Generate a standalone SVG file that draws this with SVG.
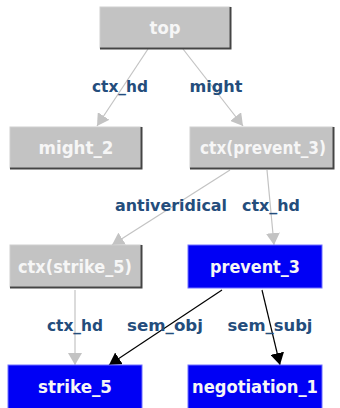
<svg xmlns="http://www.w3.org/2000/svg" width="340" height="408" viewBox="0 0 340 408">
<style>
.g rect{fill:#c3c3c3;stroke:#d0d0d0;stroke-width:1}
.g polyline{fill:none;stroke:#444;stroke-width:2}
.b rect{fill:#0000f5;stroke:#7070ff;stroke-width:1}
.nt{font-family:"DejaVu Sans",Verdana,sans-serif;font-weight:bold;font-size:17px;fill:#f6f6f6;text-anchor:middle}
.lb{font-family:"DejaVu Sans",Verdana,sans-serif;font-weight:bold;font-size:16px;fill:#244d7c;text-anchor:middle}
.eg{stroke:#c3c3c3;stroke-width:1.2;fill:none;marker-end:url(#ag)}
.ek{stroke:#000;stroke-width:1.2;fill:none;marker-end:url(#ak)}
</style>
<defs>
<marker id="ag" viewBox="0 0 12 14" refX="12" refY="7" markerWidth="12" markerHeight="14" markerUnits="userSpaceOnUse" orient="auto"><path d="M0,0 L12,7 L0,14 Z" fill="#c3c3c3"/></marker>
<marker id="ak" viewBox="0 0 12 14" refX="12" refY="7" markerWidth="12" markerHeight="14" markerUnits="userSpaceOnUse" orient="auto"><path d="M0,0 L12,7 L0,14 Z" fill="#000"/></marker>
</defs>
<g id="edges">
<line class="eg" x1="148" y1="49" x2="97" y2="126"/>
<line class="eg" x1="183" y1="49" x2="243" y2="126"/>
<line class="eg" x1="230" y1="170" x2="112" y2="245"/>
<line class="eg" x1="267" y1="170" x2="274" y2="245"/>
<line class="eg" x1="75" y1="290" x2="75" y2="365"/>
<line class="ek" x1="222" y1="290" x2="109" y2="365"/>
<line class="ek" x1="262" y1="290" x2="280" y2="365"/>
<text class="lb" x="120" y="92" textLength="56" lengthAdjust="spacingAndGlyphs">ctx_hd</text>
<text class="lb" x="216" y="92" textLength="53" lengthAdjust="spacingAndGlyphs">might</text>
<text class="lb" x="171" y="211" textLength="112" lengthAdjust="spacingAndGlyphs">antiveridical</text>
<text class="lb" x="271" y="211" textLength="58" lengthAdjust="spacingAndGlyphs">ctx_hd</text>
<text class="lb" x="75" y="331" textLength="56" lengthAdjust="spacingAndGlyphs">ctx_hd</text>
<text class="lb" x="165" y="331" textLength="76" lengthAdjust="spacingAndGlyphs">sem_obj</text>
<text class="lb" x="270" y="331" textLength="85" lengthAdjust="spacingAndGlyphs">sem_subj</text>
</g>
<g id="top" class="g"><rect x="100" y="7" width="130" height="41"/><polyline points="100,48.5 230.5,48.5 230.5,7"/><text class="nt" x="165" y="34" textLength="31" lengthAdjust="spacingAndGlyphs">top</text></g>
<g id="might_2" class="g"><rect x="10" y="127" width="131" height="41"/><polyline points="10,168.5 141.5,168.5 141.5,127"/><text class="nt" x="76" y="154" textLength="75" lengthAdjust="spacingAndGlyphs">might_2</text></g>
<g id="ctx_prevent_3" class="g"><rect x="190" y="127" width="143" height="41"/><polyline points="190,168.5 333.5,168.5 333.5,127"/><text class="nt" x="263" y="154" textLength="126" lengthAdjust="spacingAndGlyphs">ctx(prevent_3)</text></g>
<g id="ctx_strike_5" class="g"><rect x="10" y="245" width="131" height="42"/><polyline points="10,287.5 141.5,287.5 141.5,245"/><text class="nt" x="75" y="273" textLength="114" lengthAdjust="spacingAndGlyphs">ctx(strike_5)</text></g>
<g id="prevent_3" class="b"><rect x="188" y="245" width="134" height="43"/><text class="nt" x="255" y="273" textLength="90" lengthAdjust="spacingAndGlyphs">prevent_3</text></g>
<g id="strike_5" class="b"><rect x="8" y="365" width="134" height="44"/><text class="nt" x="75" y="393" textLength="74" lengthAdjust="spacingAndGlyphs">strike_5</text></g>
<g id="negotiation_1" class="b"><rect x="188" y="365" width="134" height="44"/><text class="nt" x="255" y="393" textLength="126" lengthAdjust="spacingAndGlyphs">negotiation_1</text></g>
</svg>
